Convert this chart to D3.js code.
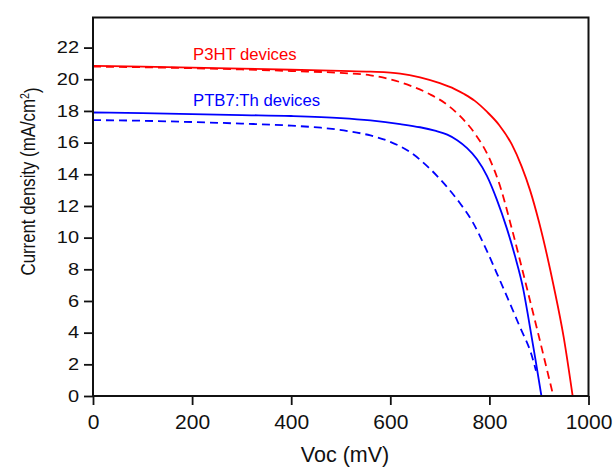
<!DOCTYPE html>
<html>
<head>
<meta charset="utf-8">
<script src="https://cdn.jsdelivr.net/npm/d3@7"></script>
<style>
  body { margin: 0; background: #fff; }
  svg { font-family: "Liberation Sans", Arial, sans-serif; }
</style>
</head>
<body>
<svg id="chart"></svg>
<script>
// Data (V in mV, J in mA/cm2)
let p3htLightV = [0, 100, 200, 300, 400, 500, 560, 620, 660, 700, 730, 750, 770, 795, 820, 845, 865, 882, 900, 930, 950, 968];
let p3htLightJ = [20.85, 20.8, 20.74, 20.67, 20.6, 20.53, 20.48, 20.36, 20.12, 19.75, 19.38, 19.05, 18.65, 17.95, 17.1, 15.9, 14.5, 13.0, 11.0, 6.9, 3.7, 0];

let p3htDashV = [0, 100, 200, 300, 400, 500, 560, 600, 640, 680, 710, 740, 770, 800, 820, 845, 875, 898, 929];
let p3htDashJ = [20.8, 20.76, 20.7, 20.62, 20.52, 20.4, 20.25, 20.0, 19.6, 19.05, 18.5, 17.7, 16.6, 15.0, 13.4, 10.6, 6.9, 4.0, 0];

let ptbLightV = [0, 100, 200, 300, 400, 500, 560, 620, 660, 690, 715, 735, 755, 775, 795, 815, 835, 852, 868, 880, 893, 905];
let ptbLightJ = [17.9, 17.86, 17.8, 17.74, 17.68, 17.55, 17.4, 17.17, 16.97, 16.75, 16.5, 16.15, 15.65, 14.95, 13.9, 12.4, 10.6, 8.8, 6.8, 4.7, 2.3, 0];

let ptbDashV = [0, 100, 200, 300, 400, 460, 520, 560, 600, 640, 680, 713, 740, 765, 790, 815, 840, 861, 885, 894];
let ptbDashJ = [17.42, 17.38, 17.3, 17.2, 17.07, 16.94, 16.7, 16.45, 16.05, 15.4, 14.35, 13.25, 12.2, 11.05, 9.5, 7.75, 5.95, 4.4, 2.6, 1.6];

let xTicks = [0, 200, 400, 600, 800, 1000];
let yTicks = [0, 2, 4, 6, 8, 10, 12, 14, 16, 18, 20, 22];

let width = 613;
let height = 467;
let plotLeft = 93, plotRight = 588.5, plotTop = 17.5, plotBottom = 396;

let svg = d3.select("#chart").attr("width", width).attr("height", height);

let xScale = d3.scaleLinear().domain([0, 1000]).range([plotLeft, plotRight]);
let yScale = d3.scaleLinear().domain([0, 23.9]).range([plotBottom, plotTop]);

let toPoints = (vs, js) => vs.map((v, i) => [v, js[i]]);

let series = [
  { pts: toPoints(p3htLightV, p3htLightJ), color: "#ff0000", dash: null },
  { pts: toPoints(p3htDashV, p3htDashJ), color: "#ff0000", dash: "8,5" },
  { pts: toPoints(ptbLightV, ptbLightJ), color: "#0000ff", dash: null },
  { pts: toPoints(ptbDashV, ptbDashJ), color: "#0000ff", dash: "8,5" }
];

let line = d3.line()
  .x((d) => xScale(d[0]))
  .y((d) => yScale(d[1]))
  .curve(d3.curveMonotoneX);

svg.selectAll("path.curve")
  .data(series)
  .enter()
  .append("path")
  .attr("class", "curve")
  .attr("d", (s) => line(s.pts))
  .attr("fill", "none")
  .attr("stroke", (s) => s.color)
  .attr("stroke-width", 1.8)
  .attr("stroke-dasharray", (s) => s.dash);

// axes
let xAxis = d3.axisBottom(xScale).tickValues(xTicks).tickSize(9).tickPadding(9).tickFormat(d3.format("d"));
let yAxis = d3.axisLeft(yScale).tickValues(yTicks).tickSize(9).tickPadding(5).tickFormat(d3.format("d"));

let gx = svg.append("g").attr("transform", "translate(0," + plotBottom + ")").call(xAxis);
let gy = svg.append("g").attr("transform", "translate(" + plotLeft + ",0)").call(yAxis);

[gx, gy].forEach((g) => {
  g.select(".domain").remove();
  g.selectAll(".tick line").attr("stroke", "#111").attr("stroke-width", 1.8);
  g.selectAll(".tick text").attr("fill", "#111").style("font-family", "'Liberation Sans', Arial, sans-serif");
});
gx.selectAll(".tick text").style("font-size", "21px");
gy.selectAll(".tick text").style("font-size", "20px").attr("transform", "scale(1,0.82)");

// frame
svg.append("rect")
  .attr("x", plotLeft)
  .attr("y", plotTop)
  .attr("width", plotRight - plotLeft)
  .attr("height", plotBottom - plotTop)
  .attr("fill", "none")
  .attr("stroke", "#111")
  .attr("stroke-width", 2);

// axis titles
svg.append("text")
  .attr("x", 345)
  .attr("y", 462)
  .attr("text-anchor", "middle")
  .attr("fill", "#111")
  .style("font-size", "21.5px")
  .text("Voc (mV)");

let yTitle = svg.append("text")
  .attr("transform", "translate(35,181.5) rotate(-90) scale(0.82,1)")
  .attr("text-anchor", "middle")
  .attr("fill", "#111")
  .style("font-size", "20.5px");
yTitle.append("tspan").text("Current density (mA/cm");
yTitle.append("tspan").attr("dy", "-0.5em").style("font-size", "13px").text("2");
yTitle.append("tspan").attr("dy", "0.5em").text(")");

// curve labels
svg.append("text")
  .attr("x", 193)
  .attr("y", 59.5)
  .attr("fill", "#ff0000")
  .style("font-size", "16.7px")
  .text("P3HT devices");

svg.append("text")
  .attr("x", 193)
  .attr("y", 106)
  .attr("fill", "#0000ff")
  .style("font-size", "16.7px")
  .text("PTB7:Th devices");
</script>
</body>
</html>
